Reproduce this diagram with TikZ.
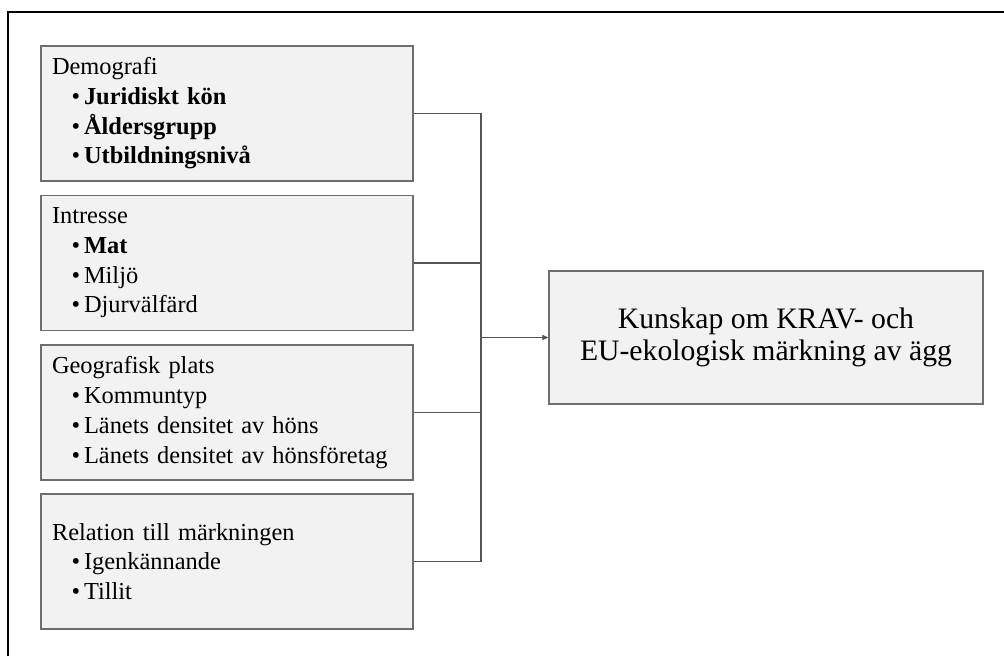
\documentclass[tikz,border=0pt]{standalone}
\usepackage{fontspec}
\setmainfont{Liberation Serif}
\usetikzlibrary{arrows.meta}
\definecolor{boxfill}{HTML}{F2F2F2}
\definecolor{boxline}{HTML}{6E6E6E}
\definecolor{conline}{HTML}{555555}
\newcommand{\itm}[1]{\\\hspace*{19.5pt}•\hspace{4pt}#1}
\begin{document}
\begin{tikzpicture}[x=1pt,y=-1pt,
  leftbox/.style={draw=boxline,line width=1.2pt,fill=boxfill,minimum width=372pt,minimum height=135pt,
    text width=350pt,inner xsep=11pt,align=left,font=\fontsize{24.4}{29.7}\selectfont,text=black},
  targetbox/.style={draw=boxline,line width=1.2pt,fill=boxfill,minimum width=434pt,minimum height=133pt,
    align=center,font=\fontsize{29.7}{32.5}\selectfont,text=black},
  con/.style={draw=conline,line width=1.1pt}]
\useasboundingbox (0,0) rectangle (1004,656);
\fill[white] (0,0) rectangle (1004,656);
\draw[line width=1.5pt,black] (8,656) -- (8,12) -- (1004,12);
\node[leftbox] (b1) at (227,113.5) {Demografi\itm{\textbf{Juridiskt kön}}\itm{\textbf{Åldersgrupp}}\itm{\textbf{Utbildningsnivå}}};
\node[leftbox] (b2) at (227,263) {Intresse\itm{\textbf{Mat}}\itm{Miljö}\itm{Djurvälfärd}};
\node[leftbox] (b3) at (227,412.5) {Geografisk plats\itm{Kommuntyp}\itm{Länets densitet av höns}\itm{Länets densitet av hönsföretag}};
\node[leftbox] (b4) at (227,561.5) {Relation till märkningen\itm{Igenkännande}\itm{Tillit}};
\node[targetbox] (t) at (766,337.5) {Kunskap om KRAV- och\\EU-ekologisk märkning av ägg};
\coordinate (j) at (481,337.5);
\draw[con] (b1.east) -- (b1.east -| j) -- (b4.east -| j) -- (b4.east);
\draw[con] (b2.east) -- (b2.east -| j);
\draw[con] (b3.east) -- (b3.east -| j);
\draw[con,-{Triangle[length=6pt,width=5pt]}] (j) -- (t.west);
\end{tikzpicture}
\end{document}
